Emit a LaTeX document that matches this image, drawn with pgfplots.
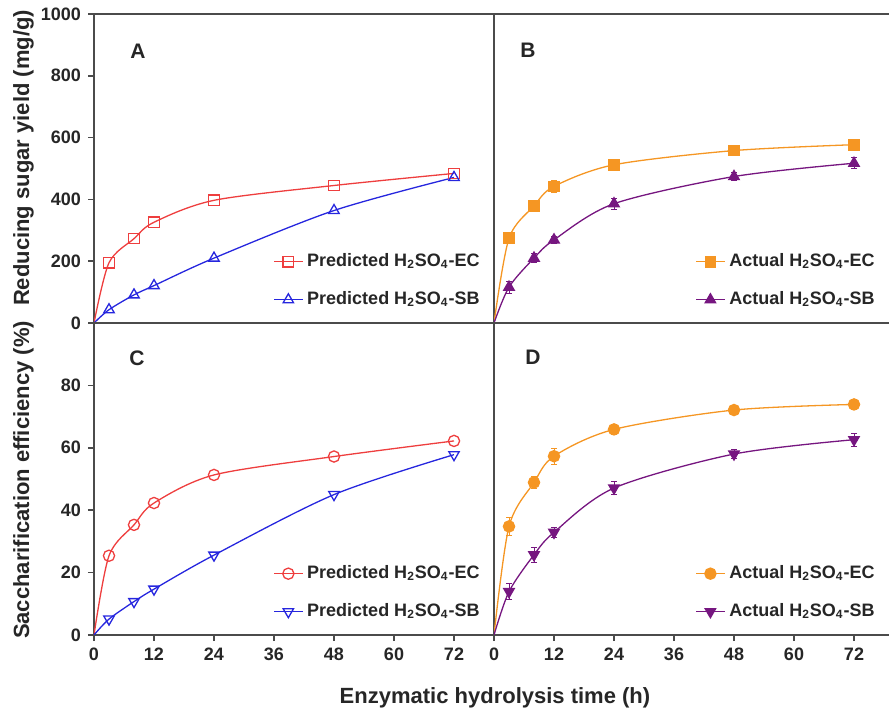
\documentclass[border=0pt]{standalone}
\usepackage{fontspec}
\setmainfont{Liberation Sans}
\usepackage{pgfplots}
\pgfplotsset{compat=1.18}

\definecolor{cred}{RGB}{238,62,62}
\definecolor{cblue}{RGB}{38,38,222}
\definecolor{corange}{RGB}{245,150,35}
\definecolor{cpurple}{RGB}{118,22,128}
\definecolor{axgray}{RGB}{75,75,75}

\tikzset{lbl/.style={font=\fontsize{10.5}{12}\selectfont\bfseries, text=black!85}}

\pgfplotsset{
  panel/.style={
    scale only axis, xmin=0, xmax=80,
    axis line style={axgray, line width=0.8pt},
    tick style={axgray, line width=0.8pt},
    major tick length=3pt,
    tick align=outside,
    xtick pos=bottom, ytick pos=left,
    ticklabel style={font=\fontsize{9}{10}\selectfont\bfseries, text=black!85},
    /pgf/number format/assume math mode=true,
    /pgf/number format/1000 sep={},
    legend cell align=left,
    legend style={draw=none, fill=none, font=\fontsize{9}{10}\selectfont\bfseries,
      text=black!85, row sep=7pt, anchor=south east, at={(0.99,0.022)}},
    legend image code/.code={\draw[mark indices={2}] plot coordinates {(0cm,0cm) (0.25cm,0cm) (0.5cm,0cm)};},
    every axis plot/.append style={line width=0.65pt, mark indices={2,3,4,5,6,7}},
  },
  right panel/.style={
    panel, xmax=79, width=197.5pt,
    axis x line=box, axis y line=left, axis line style={-},
    ytick=\empty,
  },
}

\begin{document}
\begin{tikzpicture}
\useasboundingbox (0,0) rectangle (444.5pt,356pt);

% ---------- A ----------
\begin{axis}[panel, at={(47pt,194.5pt)}, anchor=south west, width=200pt, height=154.5pt,
  ymin=0, ymax=1000, ytick={0,200,...,1000}, xtick=\empty]
\addplot[cred, smooth, mark=square, mark size=2.6pt,
  mark options={fill=white, solid}] coordinates {
  (0,0) (3,195) (8,273) (12,326) (24,397) (48,445) (72,484)};
\addlegendentry{Predicted H\textsubscript{2}SO\textsubscript{4}-EC}
\addplot[cblue, smooth, mark=triangle, mark size=3pt,
  mark options={fill=white, solid}] coordinates {
  (0,0) (3,43) (8,91) (12,121) (24,210) (48,364) (72,471)};
\addlegendentry{Predicted H\textsubscript{2}SO\textsubscript{4}-SB}
\node[lbl] at (axis cs:8.8,878) {A};
\end{axis}

% ---------- B ----------
\begin{axis}[right panel, at={(247pt,194.5pt)}, anchor=south west, height=154.5pt,
  ymin=0, ymax=1000, xtick=\empty]
\addplot[corange, smooth, mark=square*, mark size=2.6pt,
  mark options={solid},
  error bars/.cd, y dir=both, y explicit, error bar style={corange, line width=0.5pt}, error mark options={rotate=90, mark size=1.5pt}]
  coordinates {
  (0,0) +- (0,0) (3,274) +- (0,18) (8,379) +- (0,14) (12,442) +- (0,20) (24,512) +- (0,12) (48,558) +- (0,8) (72,577) +- (0,12)};
\addlegendentry{Actual H\textsubscript{2}SO\textsubscript{4}-EC}
\addplot[cpurple, smooth, mark=triangle*, mark size=3pt,
  mark options={solid},
  error bars/.cd, y dir=both, y explicit, error bar style={cpurple, line width=0.5pt}, error mark options={rotate=90, mark size=1.5pt}]
  coordinates {
  (0,0) +- (0,0) (3,116) +- (0,20) (8,210) +- (0,15) (12,269) +- (0,12) (24,386) +- (0,18) (48,474) +- (0,12) (72,517) +- (0,18)};
\addlegendentry{Actual H\textsubscript{2}SO\textsubscript{4}-SB}
\node[lbl] at (axis cs:6.8,884) {B};
\end{axis}

% ---------- C ----------
\begin{axis}[panel, at={(47pt,38.5pt)}, anchor=south west, width=200pt, height=156pt,
  ymin=0, ymax=100, ytick={0,20,...,80}, xtick={0,12,...,72}]
\addplot[cred, smooth, mark=o, mark size=2.8pt,
  mark options={fill=white, solid}] coordinates {
  (0,0) (3,25.4) (8,35.3) (12,42.3) (24,51.3) (48,57.2) (72,62.2)};
\addlegendentry{Predicted H\textsubscript{2}SO\textsubscript{4}-EC}
\addplot[cblue, smooth, mark=triangle, mark size=3pt,
  mark options={fill=white, solid, rotate=180}] coordinates {
  (0,0) (3,5.1) (8,10.7) (12,14.7) (24,25.6) (48,45.0) (72,57.8)};
\addlegendentry{Predicted H\textsubscript{2}SO\textsubscript{4}-SB}
\node[lbl] at (axis cs:8.6,88.7) {C};
\end{axis}

% ---------- D ----------
\begin{axis}[right panel, at={(247pt,38.5pt)}, anchor=south west, height=156pt,
  ymin=0, ymax=100, xtick={0,12,...,72}]
\addplot[corange, smooth, mark=*, mark size=2.8pt,
  mark options={solid},
  error bars/.cd, y dir=both, y explicit, error bar style={corange, line width=0.5pt}, error mark options={rotate=90, mark size=1.5pt}]
  coordinates {
  (0,0) +- (0,0) (3,34.8) +- (0,3) (8,48.9) +- (0,2) (12,57.3) +- (0,2.5) (24,65.9) +- (0,1.5) (48,72.1) +- (0,1.5) (72,73.9) +- (0,1.5)};
\addlegendentry{Actual H\textsubscript{2}SO\textsubscript{4}-EC}
\addplot[cpurple, smooth, mark=triangle*, mark size=3pt,
  mark options={solid, rotate=180},
  error bars/.cd, y dir=both, y explicit, error bar style={cpurple, line width=0.5pt}, error mark options={rotate=90, mark size=1.5pt}]
  coordinates {
  (0,0) +- (0,0) (3,13.9) +- (0,2.5) (8,25.7) +- (0,2.5) (12,32.9) +- (0,1.5) (24,47.1) +- (0,2) (48,58.0) +- (0,1.5) (72,62.6) +- (0,2)};
\addlegendentry{Actual H\textsubscript{2}SO\textsubscript{4}-SB}
\node[lbl] at (axis cs:7.8,89) {D};
\end{axis}

% axis titles
\node[font=\fontsize{11}{13}\selectfont\bfseries, text=black!85, rotate=90] at (11.75pt,277pt) {Reducing sugar yield (mg/g)};
\node[font=\fontsize{11}{13}\selectfont\bfseries, text=black!85, rotate=90] at (11.75pt,116pt) {Saccharification efficiency (\%)};
\node[font=\fontsize{11}{13}\selectfont\bfseries, text=black!85, anchor=base] at (247.5pt,4pt) {Enzymatic hydrolysis time (h)};
\end{tikzpicture}
\end{document}
